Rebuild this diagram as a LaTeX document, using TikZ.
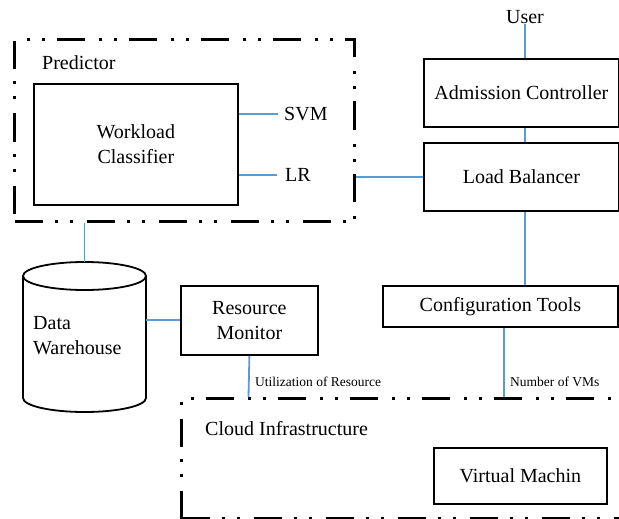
\documentclass[tikz,border=0pt]{standalone}
\usepackage{fontspec}
\setmainfont{Liberation Serif}
\begin{document}
\begin{tikzpicture}[x=1pt,y=-1pt,
  box/.style={draw=black, line width=1.8pt, fill=white, inner sep=0pt, anchor=north west},
  group/.style={draw=black, line width=3pt,
    dash pattern=on 28pt off 12pt on 3pt off 12pt on 3pt off 14pt, anchor=north west, inner sep=0pt},
  wire/.style={draw=wireblue, line width=1.8pt},
  big/.style={font=\fontsize{20}{25}\selectfont},
  small/.style={font=\fontsize{13.5}{16}\selectfont, inner sep=0pt},
]
\definecolor{wireblue}{RGB}{91,155,213}
\useasboundingbox (0,0) rectangle (619,519);
\clip (0,0) rectangle (619,519);
\fill[white] (0,0) rectangle (619,519);

% group frames
\node[group, minimum width=340pt, minimum height=182pt] (pred) at (13,38) {};
\node[group, minimum width=470pt, minimum height=120pt] (cloud) at (180,397) {};

% predictor part
\node[big, anchor=west, inner sep=0pt] (predl) at (42,63) {Predictor};
\node[box, minimum width=204pt, minimum height=121pt] (wc) at (33,83) {};
\node[big, align=center] (wct) at (wc.center) {Workload\\Classifier};
\node[big, anchor=west, inner sep=0pt] (svm) at (284,114) {SVM};
\node[big, anchor=west, inner sep=0pt] (lr) at (285,175) {LR};
\draw[wire] (wc.east |- svm) -- (278,114);
\draw[wire] (wc.east |- lr) -- (277,175);

% control path
\node[big, inner sep=0pt] (user) at (525,17) {User};
\node[box, minimum width=195pt, minimum height=68pt] (ac) at (423,58) {};
\node[big] at (ac.center) {Admission Controller};
\node[box, minimum width=195pt, minimum height=68pt] (lb) at (423,142) {};
\node[big] at (lb.center) {Load Balancer};
\node[box, minimum width=235pt, minimum height=41pt] (ct) at (382,285) {};
\node[big] at (ct.center) {Configuration Tools};
\draw[wire] (user.south) -- (user.south |- ac.north);
\draw[wire] (ac.south -| user) -- (lb.north -| user);
\draw[wire] (lb.south -| user) -- (ct.north -| user);
\draw[wire] (lb.west) -- (lb.west -| pred.east);

% data warehouse
\draw[line width=1.8pt, fill=white] (23,276) -- (23,398)
  arc[start angle=180, end angle=0, x radius=61.5, y radius=14] -- (146,276);
\draw[line width=1.8pt] (84.5,276) ellipse[x radius=61.5, y radius=14];
\coordinate (dwtop) at (84.5,262);
\coordinate (dwright) at (146,320);
\node[big, anchor=west, align=left, inner sep=0pt] (dw) at (33,336) {Data\\Warehouse};
\draw[wire] (pred.south -| dwtop) -- (dwtop);

% resource monitor
\node[box, minimum width=137pt, minimum height=69pt] (rm) at (180,285) {};
\node[big, align=center] at (rm.center) {Resource\\Monitor};
\draw[wire] (dwright) -- (rm.west |- dwright);
\coordinate (rmfoot) at (248.5,397);
\draw[wire] (rm.south) -- (rmfoot);
\node[small, anchor=west] (util) at (255,382) {Utilization of Resource};
\coordinate (ctfoot) at (504,397);
\draw[wire] (ct.south -| ctfoot) -- (ctfoot);
\node[small, anchor=west] (nvm) at (510,382) {Number of VMs};

% cloud content
\node[big, anchor=west, inner sep=0pt] (cloudl) at (205,429) {Cloud Infrastructure};
\node[box, minimum width=173pt, minimum height=56pt] (vm) at (433,447) {};
\node[big] at (vm.center) {Virtual Machin};
\end{tikzpicture}
\end{document}
